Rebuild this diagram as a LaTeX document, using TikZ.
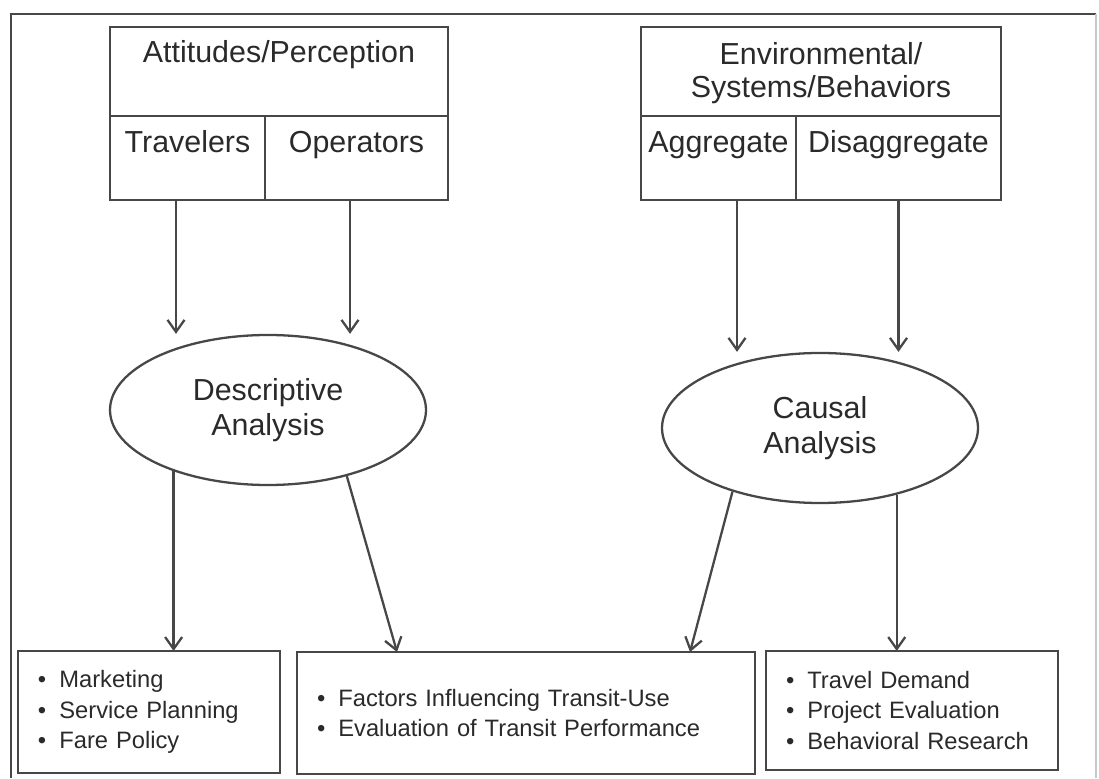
\documentclass[tikz,border=0pt]{standalone}
\usepackage{fontspec}
\setmainfont{Liberation Sans}
\usetikzlibrary{arrows.meta,shapes.geometric,positioning}
\definecolor{linegray}{HTML}{474747}
\definecolor{txtgray}{HTML}{2A2A2A}
\newcommand{\bul}{\textbullet\hspace{0.55em}}

\begin{document}
\begin{tikzpicture}[
    line width=1.3pt,
    box/.style={draw=linegray,rectangle,inner sep=0pt,outer sep=0pt,text=txtgray,
        font=\fontsize{17.3}{19.3}\selectfont},
    cell/.style={box,minimum height=1.68cm,text height=0.74cm,text depth=0.94cm},
    oval/.style={draw=linegray,ellipse,minimum width=6.32cm,minimum height=3cm,
        align=center,text=txtgray,font=\fontsize{17.3}{20}\selectfont},
    list/.style={box,minimum height=2.44cm,inner xsep=0.4cm,align=left,
        font=\fontsize{13.5}{17.4}\selectfont},
    arr/.style={draw=linegray,-{Straight Barb[length=2.4mm,width=3.4mm]}}
]
    \useasboundingbox (0,0) rectangle (21.98,15.56);
    % frame
    \draw[linegray] (0.22,0) -- (0.22,15.28) -- (21.92,15.28);
    \draw[linegray!30] (21.92,15.28) -- (21.92,0);

    % left table
    \node[box,minimum width=6.76cm,text height=0.72cm,text depth=1.06cm,
        anchor=north west] (att) at (2.2,15.02) {Attitudes/Perception};
    \node[cell,minimum width=3.1cm,below right=0pt of att.south west] (trav) {Travelers};
    \node[cell,minimum width=3.66cm,right=0pt of trav] (oper) {Operators};

    % right table
    \node[box,minimum width=7.2cm,minimum height=1.78cm,anchor=north west] (env) at (12.82,15.02) {};
    \node[box,draw=none,align=center,below=0.3cm of env.north] (envtxt) {Environmental/\\Systems/Behaviors};
    \node[cell,minimum width=3.1cm,below right=0pt of env.south west] (aggr) {Aggregate};
    \node[cell,minimum width=4.1cm,right=0pt of aggr] (disag) {Disaggregate};

    % analyses
    \node[oval] (desc) at (5.36,7.36) {Descriptive\\Analysis};
    \node[oval] (caus) at (16.4,7.0) {Causal\\Analysis};

    % uses
    \node[list,text width=4.44cm] (mkt) at (2.98,1.32)
        {\bul Marketing\\\bul Service Planning\\\bul Fare Policy};
    \node[list,text width=8.36cm] (fac) at (10.52,1.30)
        {\bul Factors Influencing Transit-Use\\\bul Evaluation of Transit Performance};
    \node[list,text width=5.04cm,minimum height=2.38cm] (tra) at (18.24,1.35)
        {\bul Travel Demand\\\bul Project Evaluation\\\bul Behavioral Research};

    \draw[arr] ([xshift=-0.23cm]trav.south) -- ([xshift=-0.23cm]trav.south |- desc.north);
    \draw[arr] ([xshift=-0.13cm]oper.south) -- ([xshift=-0.13cm]oper.south |- desc.north);
    \draw[arr] ([xshift=0.37cm]aggr.south) -- ([xshift=0.37cm]aggr.south |- caus.north);
    \draw[arr] (disag.south) -- (disag.south |- caus.north);

    \draw[arr] (desc.213.5) -- (desc.213.5 |- mkt.north);
    \draw[arr] (desc.320.7) -- ([xshift=-2.58cm]fac.north);
    \draw[arr] (caus.216.9) -- ([xshift=3.28cm]fac.north);
    \draw[arr] (caus.319.8) -- (caus.319.8 |- tra.north);
\end{tikzpicture}
\end{document}
